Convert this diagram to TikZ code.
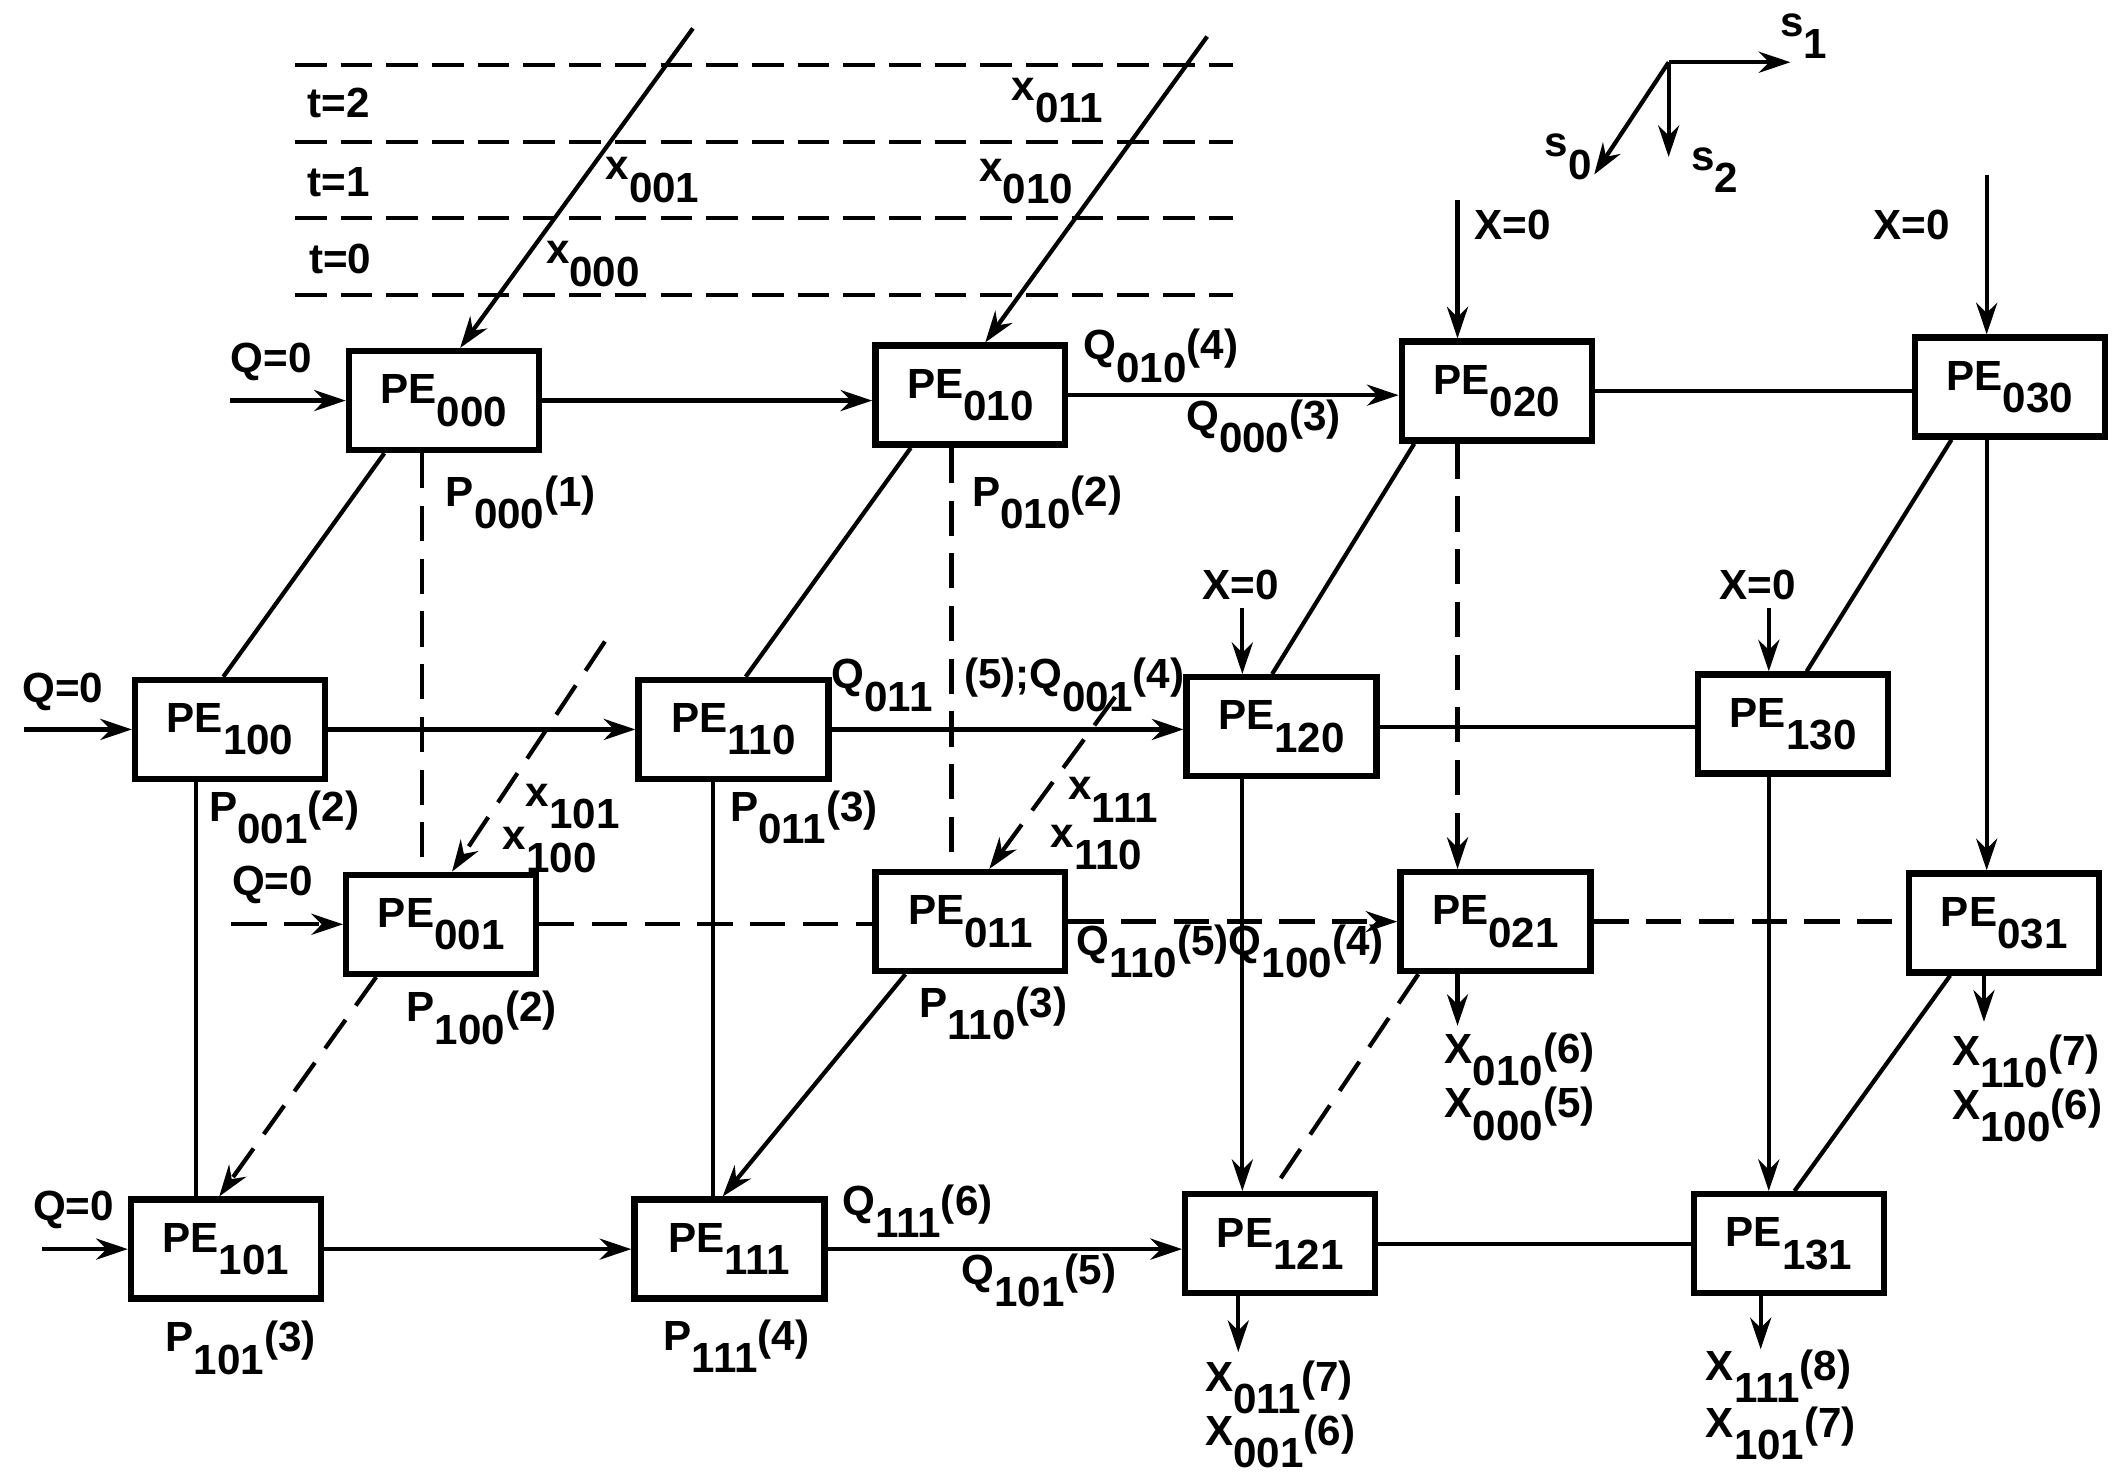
\documentclass[tikz,border=0pt]{standalone}
\usepackage{fontspec}
\setmainfont{Liberation Sans}
\usepackage{tikz}
\usetikzlibrary{arrows.meta, calc, positioning}

\newcommand{\idx}[1]{\raisebox{-1ex}{#1}}

\begin{document}
\begin{tikzpicture}[
        x=0.013533cm, y=-0.013533cm,
        >={Stealth[length=9pt, width=6pt]}, % Arrowhead style
        font=\fontsize{12}{14}\selectfont\bfseries,
        pe/.style={draw, line width=1.8pt, minimum width=1.9cm, minimum height=0.99cm, inner sep=0pt},
        lbl/.style={anchor=base west, inner sep=0pt},
        link/.style={line width=1.2pt},
        dlink/.style={line width=1.2pt, dash pattern=on 10pt off 5pt},
        level/.style={line width=1.3pt, dash pattern=on 9pt off 4pt}
    ]
    \useasboundingbox (0,0) rectangle (1568,1095);

    % ==========================================
    % Time levels
    % ==========================================
    \draw[level] (218,48) -- (911,48);
    \draw[level] (218,105) -- (911,105);
    \draw[level] (218,161) -- (911,161);
    \draw[level] (218,218) -- (911,218);
    \node[lbl] (t2) at (227,87) {t=2};
    \node[lbl] (t1) at (227,145) {t=1};
    \node[lbl] (t0) at (228,202) {t=0};

    % ==========================================
    % Nodes Placement
    % ==========================================
    \node[pe] (pe000) at (328,296) {PE\idx{000}};
    \node[pe] (pe010) at (717,292) {PE\idx{010}};
    \node[pe] (pe020) at (1106,289) {PE\idx{020}};
    \node[pe] (pe030) at (1485,286) {PE\idx{030}};

    \node[pe] (pe100) at (170,539) {PE\idx{100}};
    \node[pe] (pe110) at (542,539) {PE\idx{110}};
    \node[pe] (pe120) at (947,537) {PE\idx{120}};
    \node[pe] (pe130) at (1325,535) {PE\idx{130}};

    \node[pe] (pe001) at (326,683) {PE\idx{001}};
    \node[pe] (pe011) at (717,681) {PE\idx{011}};
    \node[pe] (pe021) at (1105,681) {PE\idx{021}};
    \node[pe] (pe031) at (1481,682) {PE\idx{031}};

    \node[pe] (pe101) at (167,923) {PE\idx{101}};
    \node[pe] (pe111) at (539,923) {PE\idx{111}};
    \node[pe] (pe121) at (946,919) {PE\idx{121}};
    \node[pe] (pe131) at (1322,919) {PE\idx{131}};

    % ==========================================
    % Edges along s1
    % ==========================================
    \draw[link,->] (pe000.east) -- (pe000.east -| pe010.west);
    \draw[link,->] (pe010.east) -- (pe010.east -| pe020.west);
    \draw[link] (pe020.east) -- (pe020.east -| pe030.west);

    \draw[link,->] (pe100.east) -- (pe100.east -| pe110.west);
    \draw[link,->] (pe110.east) -- (pe110.east -| pe120.west);
    \draw[link] (pe120.east) -- (pe120.east -| pe130.west);

    \draw[dlink] (pe001.east) -- (pe001.east -| pe011.west);
    \draw[dlink,->] (pe011.east) -- (pe011.east -| pe021.west);
    \draw[dlink] (pe021.east) -- (pe021.east -| pe031.west);

    \draw[link,->] (pe101.east) -- (pe101.east -| pe111.west);
    \draw[link,->] (pe111.east) -- (pe111.east -| pe121.west);
    \draw[link] (pe121.east) -- (pe121.east -| pe131.west);

    % ==========================================
    % Edges along s2
    % ==========================================
    \draw[dlink] ($(pe000.south)+(-16,0)$) coordinate (v000) -- (v000 |- pe001.north);
    \draw[dlink] ($(pe010.south)+(-14,0)$) coordinate (v010) -- (v010 |- pe011.north);
    \draw[dlink,->] ($(pe020.south)+(-29,0)$) coordinate (v020) -- (v020 |- pe021.north);
    \draw[link,->] ($(pe030.south)+(-17,0)$) coordinate (v030) -- (v030 |- pe031.north);

    \draw[link] ($(pe100.south)+(-25,0)$) coordinate (v100) -- (v100 |- pe101.north);
    \draw[link] ($(pe110.south)+(-15,0)$) coordinate (v110) -- (v110 |- pe111.north);
    \draw[link,->] ($(pe120.south)+(-29,0)$) coordinate (v120) -- (v120 |- pe121.north);
    \draw[link,->] ($(pe130.south)+(-18,0)$) coordinate (v130) -- (v130 |- pe131.north);

    % ==========================================
    % Edges along s0
    % ==========================================
    \draw[link] ($(pe000.south)+(-44,0)$) -- ($(pe100.north)+(-5,0)$);
    \draw[link] ($(pe010.south)+(-44,0)$) -- ($(pe110.north)+(9,0)$);
    \draw[link] ($(pe020.south)+(-61,0)$) -- ($(pe120.north)+(-7,0)$);
    \draw[link] ($(pe030.south)+(-43,0)$) -- ($(pe130.north)+(10,0)$);

    \draw[dlink,->] ($(pe001.south)+(-48,0)$) -- ($(pe101.north)+(-5,0)$);
    \draw[link,->] ($(pe011.south)+(-48,0)$) -- ($(pe111.north)+(-5,0)$);
    \draw[dlink] ($(pe021.south)+(-57,0)$) -- ($(pe121.north)+(-6,0)$);
    \draw[link] ($(pe031.south)+(-40,0)$) -- ($(pe131.north)+(4,0)$);

    % ==========================================
    % Inputs
    % ==========================================
    \coordinate (in000) at (512,21);
    \coordinate (in010) at (892,27);
    \coordinate (in001) at (447,474);
    \coordinate (in011) at (824,515);
    \draw[link,->] (in000) -- ($(pe000.north)+(12,0)$);
    \draw[link,->] (in010) -- ($(pe010.north)+(11,0)$);
    \draw[dlink,->] (in001) -- ($(pe001.north)+(8,0)$);
    \draw[dlink,->] (in011) -- ($(pe011.north)+(14,0)$);

    \node[lbl] (x011) at (747,74) {x\idx{011}};
    \node[lbl] (x001) at (447,133) {x\idx{001}};
    \node[lbl] (x010) at (723,134) {x\idx{010}};
    \node[lbl] (x000) at (403,195) {x\idx{000}};
    \node[lbl] (x101) at (388,596) {x\idx{101}};
    \node[lbl] (x100) at (371,628) {x\idx{100}};
    \node[lbl] (x111) at (789,591) {x\idx{111}};
    \node[lbl] (x110) at (776,626) {x\idx{110}};

    % Q = 0 inputs
    \coordinate (qin000) at (170,296);
    \coordinate (qin100) at (18,539);
    \coordinate (qin001) at (171,683);
    \coordinate (qin101) at (31,923);
    \draw[link,->] (qin000) -- (pe000.west);
    \draw[link,->] (qin100) -- (pe100.west);
    \draw[dlink,->] (qin001) -- (pe001.west);
    \draw[link,->] (qin101) -- (pe101.west);
    \node[lbl] (q0a) at (170,275) {Q=0};
    \node[lbl] (q0b) at (16,519) {Q=0};
    \node[lbl] (q0c) at (171,662) {Q=0};
    \node[lbl] (q0d) at (24,902) {Q=0};

    % X = 0 inputs
    \coordinate (xin020) at (1077,148);
    \coordinate (xin030) at (1468,129);
    \coordinate (xin120) at (918,449);
    \coordinate (xin130) at (1307,449);
    \draw[link,->] (xin020) -- (xin020 |- pe020.north);
    \draw[link,->] (xin030) -- (xin030 |- pe030.north);
    \draw[link,->] (xin120) -- (xin120 |- pe120.north);
    \draw[link,->] (xin130) -- (xin130 |- pe130.north);
    \node[lbl] (x0a) at (1089,177) {X=0};
    \node[lbl] (x0b) at (1384,177) {X=0};
    \node[lbl] (x0c) at (888,443) {X=0};
    \node[lbl] (x0d) at (1270,443) {X=0};

    % ==========================================
    % Outputs
    % ==========================================
    \coordinate (out021) at (1077,758);
    \coordinate (out031) at (1466,755);
    \coordinate (out121) at (915,999);
    \coordinate (out131) at (1301,997);
    \draw[link,->] (out021 |- pe021.south) -- (out021);
    \draw[link,->] (out031 |- pe031.south) -- (out031);
    \draw[link,->] (out121 |- pe121.south) -- (out121);
    \draw[link,->] (out131 |- pe131.south) -- (out131);

    \node[lbl] (y010) at (1067,786) {X\idx{010}(6)};
    \node[lbl] (y000) at (1067,826) {X\idx{000}(5)};
    \node[lbl] (y110) at (1442,787) {X\idx{110}(7)};
    \node[lbl] (y100) at (1442,827) {X\idx{100}(6)};
    \node[lbl] (y011) at (890,1028) {X\idx{011}(7)};
    \node[lbl] (y001) at (890,1068) {X\idx{001}(6)};
    \node[lbl] (y111) at (1260,1020) {X\idx{111}(8)};
    \node[lbl] (y101) at (1260,1062) {X\idx{101}(7)};

    % ==========================================
    % Edge labels
    % ==========================================
    \node[lbl] (p000) at (329,374) {P\idx{000}(1)};
    \node[lbl] (p010) at (718,374) {P\idx{010}(2)};
    \node[lbl] (p001) at (154,607) {P\idx{001}(2)};
    \node[lbl] (p011) at (539,607) {P\idx{011}(3)};
    \node[lbl] (p100) at (300,755) {P\idx{100}(2)};
    \node[lbl] (p110) at (679,752) {P\idx{110}(3)};
    \node[lbl] (p101) at (122,999) {P\idx{101}(3)};
    \node[lbl] (p111) at (490,998) {P\idx{111}(4)};

    \node[lbl] (q010) at (800,266) {Q\idx{010}(4)};
    \node[lbl] (q000) at (876,318) {Q\idx{000}(3)};
    \node[lbl] (q011) at (614,509) {Q\idx{011}\hspace{0.75em}(5);Q\idx{001}(4)};
    \node[lbl] (q110) at (795,706) {Q\idx{110}(5)Q\idx{100}(4)};
    \node[lbl] (q111) at (622,898) {Q\idx{111}(6)};
    \node[lbl] (q101) at (710,949) {Q\idx{101}(5)};

    % ==========================================
    % Index axes
    % ==========================================
    \coordinate (orig) at (1233,46);
    \coordinate (ax1) at (1323,46);
    \coordinate (ax2) at (1233,116);
    \coordinate (ax0) at (1178,129);
    \draw[link,->] (orig) -- (ax1);
    \draw[link,->] (orig) -- (ax2);
    \draw[link,->] (orig) -- (ax0);
    \node[lbl] (s1) at (1315,27) {s\idx{1}};
    \node[lbl] (s2) at (1249,126) {s\idx{2}};
    \node[lbl] (s0) at (1141,116) {s\idx{0}};

\end{tikzpicture}
\end{document}
